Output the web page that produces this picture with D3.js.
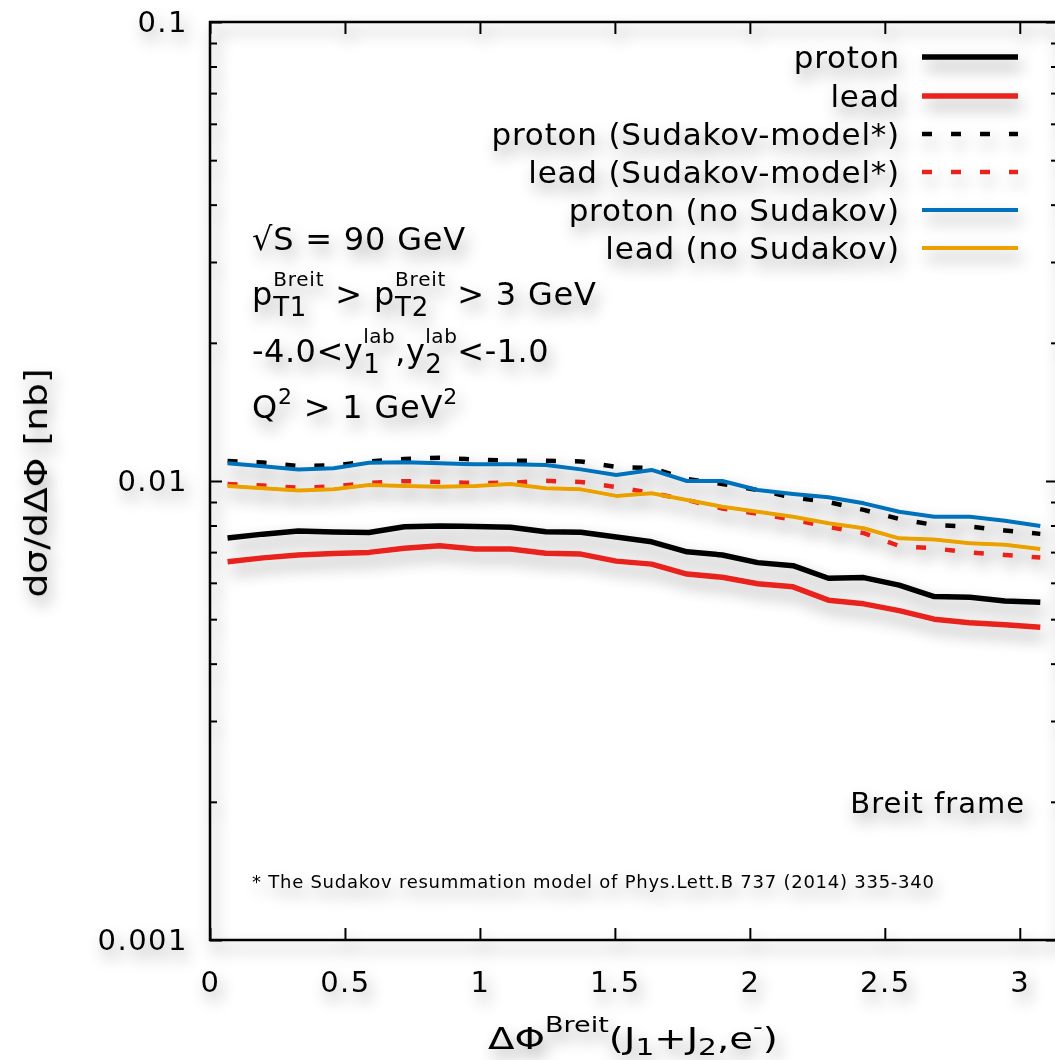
<!DOCTYPE html>
<html><head><meta charset="utf-8">
<script src="https://cdn.jsdelivr.net/npm/d3@7/dist/d3.min.js"></script>
<style>body{margin:0;background:#fff}text{white-space:pre}</style>
</head><body>
<svg id="c" width="1055" height="1060"></svg>
<script>
const phi = [0.065,0.196,0.327,0.458,0.589,0.720,0.851,0.982,1.113,1.244,1.374,1.505,1.636,1.767,1.898,2.029,2.160,2.291,2.422,2.553,2.683,2.814,2.945,3.076];
const proton = [0.00751,0.00766,0.00778,0.00774,0.00772,0.00795,0.00798,0.00796,0.00793,0.00775,0.00773,0.00755,0.00737,0.00701,0.00690,0.00664,0.00654,0.00614,0.00616,0.00593,0.00560,0.00558,0.00548,0.00544];
const lead = [0.00667,0.00680,0.00690,0.00695,0.00699,0.00714,0.00723,0.00711,0.00711,0.00696,0.00693,0.00669,0.00659,0.00627,0.00617,0.00597,0.00588,0.00550,0.00540,0.00522,0.00500,0.00491,0.00486,0.00480];
const protonSud = [0.01105,0.01097,0.01078,0.01081,0.01103,0.01117,0.01124,0.01114,0.01107,0.01107,0.01103,0.01073,0.01067,0.01010,0.00985,0.00956,0.00920,0.00900,0.00865,0.00827,0.00802,0.00796,0.00780,0.00767];
const leadSud = [0.00985,0.00978,0.00967,0.00973,0.00990,0.00999,0.00995,0.00990,0.00991,0.01001,0.00995,0.00970,0.00942,0.00909,0.00871,0.00849,0.00824,0.00794,0.00770,0.00722,0.00713,0.00699,0.00690,0.00681];
const protonNoSud = [0.01093,0.01077,0.01060,0.01066,0.01096,0.01098,0.01093,0.01087,0.01087,0.01083,0.01060,0.01031,0.01057,0.01000,0.01000,0.00956,0.00937,0.00922,0.00894,0.00857,0.00836,0.00836,0.00819,0.00798];
const leadNoSud = [0.00975,0.00964,0.00953,0.00959,0.00980,0.00975,0.00972,0.00975,0.00985,0.00964,0.00959,0.00928,0.00940,0.00909,0.00879,0.00857,0.00836,0.00809,0.00789,0.00750,0.00746,0.00732,0.00726,0.00711];
const xTicks = [0,0.5,1,1.5,2,2.5,3];
const xTickLabels = ["0","0.5","1","1.5","2","2.5","3"];
const yMajor = [0.001,0.01,0.1];
const yMajorLabels = ["0.001","0.01","0.1"];
const seriesNames = ["proton","lead","proton (Sudakov-model*)","lead (Sudakov-model*)","proton (no Sudakov)","lead (no Sudakov)"];

const FONT = "DejaVu Sans, Verdana, sans-serif";
const svg = d3.select("#c");
const defs = svg.append("defs");
const f = defs.append("filter").attr("id","sh").attr("filterUnits","userSpaceOnUse")
  .attr("x",-50).attr("y",-50).attr("width",1200).attr("height",1200);
f.append("feGaussianBlur").attr("in","SourceAlpha").attr("stdDeviation",8).attr("result","b");
f.append("feOffset").attr("in","b").attr("dx",4).attr("dy",9).attr("result","o");
f.append("feComponentTransfer").attr("in","o").attr("result","s")
  .append("feFuncA").attr("type","linear").attr("slope",0.4);
const m = f.append("feMerge");
m.append("feMergeNode").attr("in","s");
m.append("feMergeNode").attr("in","SourceGraphic");

const root = svg.append("g").attr("filter","url(#sh)").attr("font-family",FONT).attr("fill","#000");

const L=210, R=1058, T=22, B=940;
const x = d3.scaleLinear().domain([0,Math.PI]).range([L,R]);
const y = d3.scaleLog().domain([0.001,0.1]).range([B,T]);

const yMinor = [];
[0.001,0.01].forEach(d=>{for(let k=2;k<=9;k++) yMinor.push(d*k);});

function styleAxis(g){ g.select(".domain").remove(); g.selectAll(".tick line").attr("stroke","#000").attr("stroke-width",2); }
function styleLabels(g){ g.selectAll("text").attr("font-size",29).attr("font-family",FONT).attr("fill","#000").attr("letter-spacing",1.5); }

root.append("g").attr("transform",`translate(0,${B})`)
  .call(d3.axisBottom(x).tickValues(xTicks).tickSize(-12).tickPadding(31).tickFormat((d,i)=>xTickLabels[i]))
  .call(styleAxis).call(styleLabels);
root.append("g").attr("transform",`translate(0,${T})`)
  .call(d3.axisTop(x).tickValues(xTicks).tickSize(-12).tickFormat(""))
  .call(styleAxis);
root.append("g").attr("transform",`translate(${L},0)`)
  .call(d3.axisLeft(y).tickValues(yMajor).tickSize(-12).tickPadding(22).tickFormat((d,i)=>yMajorLabels[i]))
  .call(styleAxis).call(styleLabels);
root.append("g").attr("transform",`translate(${L},0)`)
  .call(d3.axisLeft(y).tickValues(yMinor).tickSize(-7).tickFormat("")).call(styleAxis);
root.append("g").attr("transform",`translate(${R},0)`)
  .call(d3.axisRight(y).tickValues(yMajor).tickSize(-12).tickFormat("")).call(styleAxis);
root.append("g").attr("transform",`translate(${R},0)`)
  .call(d3.axisRight(y).tickValues(yMinor).tickSize(-7).tickFormat("")).call(styleAxis);

root.append("rect").attr("x",L).attr("y",T).attr("width",R-L).attr("height",B-T)
  .attr("fill","none").attr("stroke","#000").attr("stroke-width",2.5);

const series = [
  {v:proton, c:"#000000", w:5.5, dash:null},
  {v:lead, c:"#e8221b", w:5.5, dash:null},
  {v:protonSud, c:"#000000", w:4.5, dash:"10,19"},
  {v:leadSud, c:"#e8221b", w:4.5, dash:"10,19"},
  {v:protonNoSud, c:"#0072bb", w:4, dash:null},
  {v:leadNoSud, c:"#e9a000", w:4, dash:null},
];
const line = d3.line().x((d,i)=>x(phi[i])).y(d=>y(d));
const plot = root.append("g");
series.forEach(s=>{
  plot.append("path").datum(s.v).attr("d",line).attr("fill","none").attr("stroke",s.c)
    .attr("stroke-width",s.w).attr("stroke-dasharray",s.dash).attr("stroke-linejoin","round");
});

const legY = [57,96,134,172,210,248];
seriesNames.forEach((n,i)=>{
  const s=series[i];
  root.append("text").attr("x",900).attr("y",legY[i]+11).attr("text-anchor","end")
    .attr("font-size",31).attr("letter-spacing",0.8).text(n);
  root.append("line").attr("x1",922).attr("x2",1018).attr("y1",legY[i]).attr("y2",legY[i])
    .attr("stroke",s.c).attr("stroke-width",s.w).attr("stroke-dasharray",s.dash);
});

function rich(g, x0, y0, parts, ls){
  let cx=x0, gs=x0, ge=x0;
  parts.forEach(p=>{
    const sx = p.stack ? gs : cx;
    const t = g.append("text").attr("x",sx).attr("y",y0+(p.dy||0)).attr("font-size",p.s)
      .attr("letter-spacing",ls||0).text(p.t);
    const w = t.node().getComputedTextLength();
    if(p.stack){ ge=Math.max(ge,sx+w); cx=ge; }
    else { gs=sx; ge=sx+w; cx=ge; }
  });
  return cx-x0;
}
const info = root.append("g");
rich(info,252,250,[{t:"√S = 90 GeV",s:32}],0.8);
rich(info,252,305,[{t:"p",s:32},{t:"T1",s:26,dy:11},{t:"Breit",s:20,dy:-19,stack:true},
  {t:" > ",s:32},{t:"p",s:32},{t:"T2",s:26,dy:11},{t:"Breit",s:20,dy:-19,stack:true},{t:" > 3 GeV",s:32}],0.8);
rich(info,252,362,[{t:"-4.0<y",s:32},{t:"1",s:26,dy:11},{t:"lab",s:20,dy:-19,stack:true},
  {t:",y",s:32},{t:"2",s:26,dy:11},{t:"lab",s:20,dy:-19,stack:true},{t:"<-1.0",s:32}],0.5);
rich(info,252,418,[{t:"Q",s:32},{t:"2",s:22,dy:-14},{t:" > 1 GeV",s:32},{t:"2",s:22,dy:-14}],0.8);

root.append("text").attr("x",1025).attr("y",813).attr("text-anchor","end").attr("font-size",29)
  .attr("letter-spacing",1).text("Breit frame");
root.append("text").attr("x",252).attr("y",888).attr("font-size",18).attr("letter-spacing",0.75)
  .text("* The Sudakov resummation model of Phys.Lett.B 737 (2014) 335-340");

// x-axis title, stretched horizontally like the reference
const xlOuter = root.append("g");
const xl = xlOuter.append("g");
const w = rich(xl,0,0,[{t:"ΔΦ",s:30},{t:"Breit",s:21,dy:-17},{t:"(J",s:30},{t:"1",s:23,dy:6},{t:"+J",s:30},{t:"2",s:23,dy:6},{t:",e",s:30},{t:"-",s:21,dy:-15},{t:")",s:30}],0);
const sx = 290/w;
xlOuter.attr("transform",`translate(${633-w*sx/2},1049) scale(${sx},1)`);

// y-axis title
root.append("text").attr("transform","translate(47,483) rotate(-90) scale(1.18,1)").attr("text-anchor","middle")
  .attr("font-size",32).text("dσ/dΔΦ [nb]");
</script>
</body></html>
